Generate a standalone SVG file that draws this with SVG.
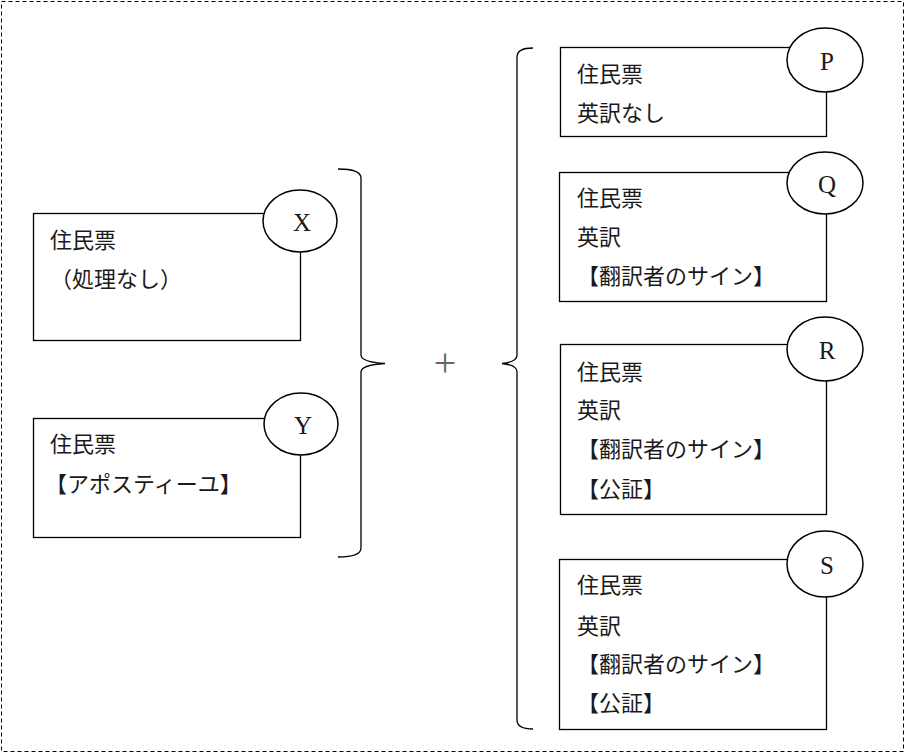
<svg xmlns="http://www.w3.org/2000/svg" width="906" height="755" viewBox="0 0 906 755">
<style>
.box{fill:#fff;stroke:#000;stroke-width:1.3}
.circ{fill:#fff;stroke:#000;stroke-width:1.5}
.t{font-family:"Liberation Serif","Noto Sans CJK JP",serif;font-size:22px;fill:#1a1a1a}
.lbl{font-family:"Liberation Serif","Noto Sans CJK JP",serif;font-size:25px;fill:#1a1a1a;text-anchor:middle}
.brace{fill:none;stroke:#000;stroke-width:1.3}
</style>
<rect x="1.5" y="1.5" width="902" height="750" fill="#fff" stroke="#000" stroke-width="1" stroke-dasharray="4 3"/>
<g id="connectors">
<path class="brace" d="M338 169 Q361 169 361 178 L361 355 Q361 362 385 363.5 Q361 365 361 372 L361 548 Q361 557 338 557"/>
<path class="brace" d="M533 48 Q517 48 517 57 L517 355 Q517 362 502 363.5 Q517 365 517 372 L517 720 Q517 729 533 729"/>
<text x="445" y="376" font-family="Liberation Serif, serif" font-size="40" fill="#666" text-anchor="middle">+</text>
</g>
<g id="nodeX">
<rect class="box" x="33.5" y="213.5" width="267" height="127"/>
<ellipse class="circ" cx="300" cy="221" rx="37" ry="31"/>
<text class="lbl" x="302" y="231">X</text>
<text class="t" x="50" y="248">住民票</text>
<text class="t" x="50" y="287">（処理なし）</text>
</g>
<g id="nodeY">
<rect class="box" x="33.5" y="418.5" width="267" height="119"/>
<ellipse class="circ" cx="301" cy="424" rx="37" ry="31"/>
<text class="lbl" x="303" y="434">Y</text>
<text class="t" x="50" y="452">住民票</text>
<text class="t" x="45" y="492">【アポスティーユ】</text>
</g>
<g id="nodeP">
<rect class="box" x="560.5" y="47.5" width="266" height="89"/>
<ellipse class="circ" cx="825" cy="60" rx="38" ry="32"/>
<text class="lbl" x="827" y="70">P</text>
<text class="t" x="577" y="82">住民票</text>
<text class="t" x="577" y="121">英訳なし</text>
</g>
<g id="nodeQ">
<rect class="box" x="559.5" y="172.5" width="267" height="129"/>
<ellipse class="circ" cx="825" cy="183" rx="38" ry="31"/>
<text class="lbl" x="827" y="193">Q</text>
<text class="t" x="577" y="206">住民票</text>
<text class="t" x="577" y="245">英訳</text>
<text class="t" x="577" y="284">【翻訳者のサイン】</text>
</g>
<g id="nodeR">
<rect class="box" x="560.5" y="344.5" width="266" height="170"/>
<ellipse class="circ" cx="825" cy="349" rx="38" ry="32"/>
<text class="lbl" x="827" y="359">R</text>
<text class="t" x="577" y="380">住民票</text>
<text class="t" x="577" y="418">英訳</text>
<text class="t" x="577" y="457">【翻訳者のサイン】</text>
<text class="t" x="577" y="497">【公証】</text>
</g>
<g id="nodeS">
<rect class="box" x="559.5" y="559.5" width="267" height="170"/>
<ellipse class="circ" cx="825" cy="564" rx="38" ry="33"/>
<text class="lbl" x="827" y="574">S</text>
<text class="t" x="577" y="593">住民票</text>
<text class="t" x="577" y="634">英訳</text>
<text class="t" x="577" y="672">【翻訳者のサイン】</text>
<text class="t" x="577" y="711">【公証】</text>
</g>
</svg>
